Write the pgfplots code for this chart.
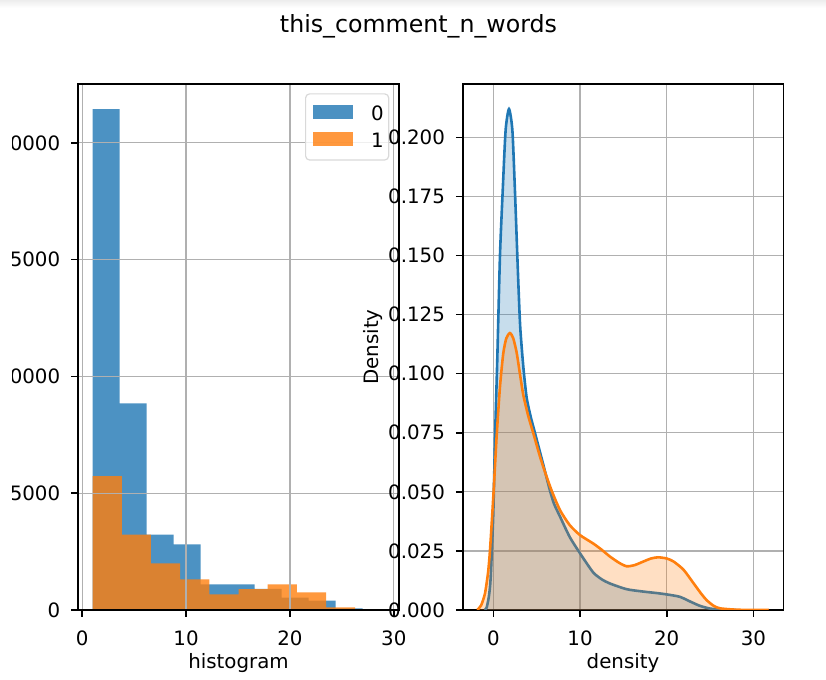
\documentclass[border=0pt]{standalone}
\usepackage{fontspec}
\setmainfont{DejaVu Sans}
\usepackage{pgfplots}
\usepackage{pgfplotstable}
\pgfplotsset{compat=1.18}

\definecolor{c0}{HTML}{1F77B4}
\definecolor{c1}{HTML}{FF7F0E}
\definecolor{gridc}{HTML}{B0B0B0}

\pgfplotstableread{
x y
-1.0 0
-0.77 0.001
-0.5 0.006
-0.3 0.014
0.0 0.041
0.2 0.073
0.45 0.105
0.77 0.150
1.08 0.177
1.42 0.203
1.81 0.212
2.2 0.203
2.5 0.177
2.85 0.142
3.1 0.120
3.46 0.103
3.84 0.090
4.3 0.082
4.8 0.075
5.3 0.068
5.8 0.061
6.5 0.051
7.0 0.045
7.7 0.0395
8.8 0.031
10 0.024
11.5 0.0160
12.5 0.0130
13.46 0.0112
15.38 0.0088
17.3 0.0078
19.0 0.0071
20.0 0.0066
21.5 0.0056
22.7 0.0036
23.8 0.0018
25.0 0.0006
26.5 0.0001
28.0 0
}\kdezero

\pgfplotstableread{
x y
-1.85 0
-1.4 0.002
-0.96 0.007
-0.6 0.016
-0.38 0.0254
0.0 0.048
0.38 0.0733
0.77 0.0945
1.15 0.1086
1.5 0.1150
1.92 0.1172
2.3 0.1150
2.69 0.1090
3.07 0.1000
3.46 0.0910
4.04 0.0820
4.6 0.0750
5.38 0.0650
6.0 0.0580
6.73 0.0505
7.69 0.0423
8.8 0.0360
10 0.0317
11.5 0.0282
12.5 0.0255
13.46 0.0226
14.5 0.0200
15.38 0.0185
16.3 0.0190
17.3 0.0205
18.2 0.0218
19.0 0.0223
20.0 0.0218
20.8 0.0205
21.95 0.0170
23.1 0.0113
24.0 0.0068
24.6 0.0042
25.4 0.0018
26.15 0.0007
27.7 0.0002
29 0.00005
31.77 0
}\kdeone

\newcommand{\tickfont}{\fontsize{19.8}{23}\selectfont}

\pgfplotsset{
  mplstyle/.style={
    scale only axis,
    height=526pt,
    axis line style={line width=1.6pt, black},
    grid=major,
    grid style={gridc, line width=1.2pt},
    tick style={black, line width=1.6pt},
    major tick length=6.9pt,
    tick align=outside,
    xtick pos=bottom, ytick pos=left,
    tick label style={font=\tickfont, text=black},
    label style={font=\tickfont, text=black},
    /pgf/number format/assume math mode=true,
    xticklabel style={yshift=-10.1pt},
    yticklabel style={xshift=-7.4pt},
    xtick={0,10,20,30},
    xlabel style={at={(axis description cs:0.5,-0.083)}, anchor=north, inner sep=0pt},
  }
}

\begin{document}
\begin{tikzpicture}
\useasboundingbox (0,0) rectangle (826pt,679pt);
\shade[top color=black!7, bottom color=white] (0,679pt) rectangle (826pt,671pt);
\begin{scope}
\clip (12.5pt,0) rectangle (826pt,679pt);
\begin{axis}[mplstyle,
  at={(78pt,69pt)}, anchor=south west,
  width=321pt,
  axis on top,
  xmin=-0.405, xmax=30.505,
  ymin=0, ymax=22522,
  ytick={0,5000,10000,15000,20000},
  scaled y ticks=false,
  /pgf/number format/1000 sep={},
  xlabel={histogram},
  legend image code/.code={\path (-7.5pt,0pt);\fill[#1, sharp corners] (0pt,-5.6pt) rectangle (40pt,8.4pt);},
  legend cell align=left,
  legend style={at={(1,1)}, anchor=north east, xshift=-9.7pt, yshift=-9.3pt,
    draw=black!15, line width=1.2pt, rounded corners=4pt,
    fill=white, fill opacity=0.8, text opacity=1,
    font=\tickfont, inner xsep=0pt, inner ysep=8.5pt,
    row sep=5pt, column sep=13pt,
    nodes={inner xsep=5pt, inner ysep=3pt}},
]
\addplot[fill=c0, fill opacity=0.8, draw=none, const plot] coordinates {
(1,21450) (3.6,8848) (6.2,3224) (8.8,2812) (11.4,1100) (14.0,1100)
(16.6,900) (19.2,527) (21.8,400) (24.4,73) (27.0,73)} \closedcycle;
\addlegendentry{0}
\addplot[fill=c1, fill opacity=0.8, draw=none, const plot] coordinates {
(1,5736) (3.81,3224) (6.62,2000) (9.43,1310) (12.24,672) (15.05,899)
(17.86,1100) (20.67,757) (23.48,115) (26.29,10) (29.1,10)} \closedcycle;
\addlegendentry{1}
\end{axis}

\begin{axis}[mplstyle,
  at={(462.7pt,69pt)}, anchor=south west,
  width=320.6pt,
  xmin=-3.53, xmax=33.45,
  ymin=0, ymax=0.2226,
  ytick={0,0.025,0.05,0.075,0.1,0.125,0.15,0.175,0.2},
  yticklabel style={/pgf/number format/.cd, fixed, fixed zerofill, precision=3},
  xlabel={density},
  ylabel={Density},
  ylabel style={at={(axis description cs:-0.279,0.5)}, anchor=center},
]
\addplot[draw=none, fill=c0, fill opacity=0.25, smooth, tension=0.4] table[x=x,y=y] {\kdezero} \closedcycle;
\addplot[c0, line width=2.6pt, smooth, tension=0.4] table[x=x,y=y] {\kdezero};
\addplot[draw=none, fill=c1, fill opacity=0.25, smooth, tension=0.4] table[x=x,y=y] {\kdeone} \closedcycle;
\addplot[c1, line width=2.6pt, smooth, tension=0.4] table[x=x,y=y] {\kdeone};
\end{axis}
\end{scope}
\node[font=\fontsize{23.7}{28}\selectfont, text=black] at (418.5pt,652.3pt) {this\_comment\_n\_words};
\end{tikzpicture}
\end{document}
